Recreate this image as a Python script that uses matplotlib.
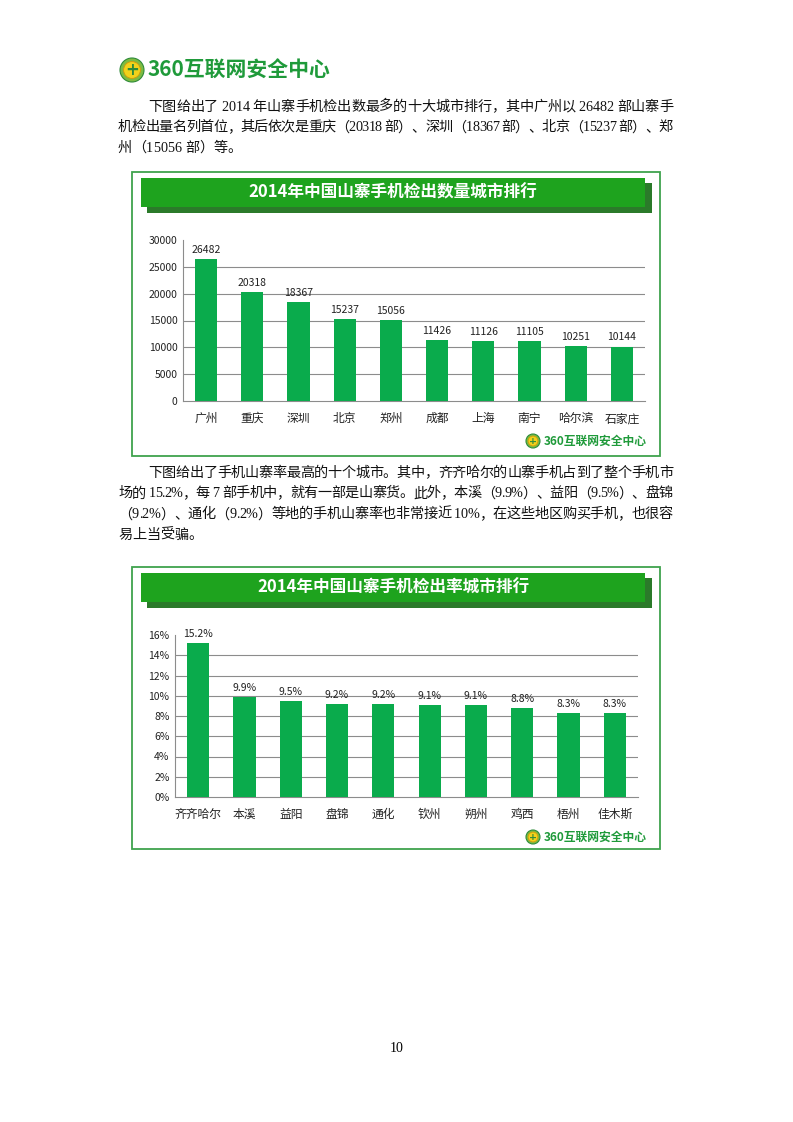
#!/usr/bin/env python3
"""Page 10 of the 360 report: two city ranking bar charts with body text."""

import matplotlib.pyplot as plt
from matplotlib.patches import Rectangle, Circle
from matplotlib.ticker import FuncFormatter

W, H = 793, 1122

count_cities = ["广州", "重庆", "深圳", "北京", "郑州", "成都", "上海", "南宁", "哈尔滨", "石家庄"]
count_values = [26482, 20318, 18367, 15237, 15056, 11426, 11126, 11105, 10251, 10144]
count_ticks = [0, 5000, 10000, 15000, 20000, 25000, 30000]

rate_cities = ["齐齐哈尔", "本溪", "益阳", "盘锦", "通化", "钦州", "朔州", "鸡西", "梧州", "佳木斯"]
rate_values = [15.2, 9.9, 9.5, 9.2, 9.2, 9.1, 9.1, 8.8, 8.3, 8.3]
rate_ticks = [0, 2, 4, 6, 8, 10, 12, 14, 16]

para1 = [
    "下图给出了 2014 年山寨手机检出数最多的十大城市排行，其中广州以 26482 部山寨手",
    "机检出量名列首位，其后依次是重庆（20318 部）、深圳（18367 部）、北京（15237 部）、郑",
    "州（15056 部）等。",
]
para2 = [
    "下图给出了手机山寨率最高的十个城市。其中，齐齐哈尔的山寨手机占到了整个手机市",
    "场的 15.2%，每 7 部手机中，就有一部是山寨货。此外，本溪（9.9%）、益阳（9.5%）、盘锦",
    "（9.2%）、通化（9.2%）等地的手机山寨率也非常接近 10%，在这些地区购买手机，也很容",
    "易上当受骗。",
]

BODY_FONT = ["Liberation Serif", "Noto Sans CJK SC"]
CJK = ["Noto Sans CJK SC", "DejaVu Sans"]
BAR = "#0aab4c"
LOGO_GREEN = "#1f9a3a"

plt.rcParams["font.family"] = CJK


def px(x, y):
    return x / W, 1 - y / H


def justify_line(ax, renderer, s, x0, x1, y, size, full=True):
    widths = []
    for ch in s:
        t = ax.text(0, 0, ch, fontsize=size, family=BODY_FONT)
        widths.append(t.get_window_extent(renderer).width)
        t.remove()
    gap = 0.0
    if full and len(s) > 1:
        gap = ((x1 - x0) - sum(widths)) / (len(s) - 1)
    x = x0
    for ch, w in zip(s, widths):
        ax.text(x, y, ch, fontsize=size, family=BODY_FONT, va="center", ha="left", color="#111111")
        x += w + gap


def draw_logo(ax, x, y, r, size):
    ax.add_patch(Circle((x, y), r, facecolor="#7dbb42", edgecolor="#2e8b3a", lw=0.8, zorder=3))
    ax.add_patch(Circle((x, y), r * 0.7, facecolor="#f2d21b", edgecolor="#d49a0a", lw=0.6, zorder=4))
    ax.text(x, y, "+", fontsize=size * 0.8, fontweight="bold", color="#2e8b3a",
            ha="center", va="center", zorder=5, family="DejaVu Sans")
    ax.text(x + r + 4, y, "360互联网安全中心", fontsize=size, fontweight="bold",
            color=LOGO_GREEN, ha="left", va="center", zorder=5)


def draw_frame(ax, top, bottom, title):
    ax.add_patch(Rectangle((132, top), 528, bottom - top, facecolor="white",
                           edgecolor="#3fa34d", lw=1.3, zorder=1))
    ax.add_patch(Rectangle((147, top + 11), 505, 30, facecolor="#2b7a2a", lw=0, zorder=2))
    ax.add_patch(Rectangle((141, top + 6), 504, 29, facecolor="#1ea31e", lw=0, zorder=3))
    ax.text(393, top + 20.5, title, fontsize=12, fontweight="bold", color="white",
            ha="center", va="center", zorder=4)


def bar_chart(fig, left, right, top, bottom, cats, vals, ticks, fmt_tick, fmt_val):
    x0, y0 = px(left, bottom)
    ax = fig.add_axes([x0, y0, (right - left) / W, (bottom - top) / H])
    ax.set_facecolor("none")
    pos = list(range(len(cats)))
    bars = ax.bar(pos, vals, width=0.48, color=BAR, zorder=3)
    ax.set_xlim(-0.5, len(cats) - 0.5)
    ax.set_ylim(ticks[0], ticks[-1])
    ax.set_yticks(ticks)
    ax.yaxis.set_major_formatter(FuncFormatter(fmt_tick))
    for t in ticks[1:-1]:
        ax.axhline(t, color="#8c8c8c", lw=0.8, zorder=1)
    ax.set_xticks(pos)
    ax.set_xticklabels(cats, fontsize=8.5, color="#222222")
    ax.tick_params(axis="x", length=0, pad=8)
    ax.tick_params(axis="y", length=0, pad=4, labelsize=7.5, labelcolor="#222222")
    for side in ("top", "right"):
        ax.spines[side].set_visible(False)
    ax.spines["left"].set_color("#8c8c8c")
    ax.spines["bottom"].set_color("#8c8c8c")
    ax.spines["left"].set_linewidth(0.8)
    ax.spines["bottom"].set_linewidth(0.8)
    for b, v in zip(bars, vals):
        ax.annotate(fmt_val(v), (b.get_x() + b.get_width() / 2, v), xytext=(0, 3),
                    textcoords="offset points", ha="center", va="bottom",
                    fontsize=7.5, color="#222222")
    return ax


def main():
    fig = plt.figure(figsize=(W / 100, H / 100), dpi=100)
    bg = fig.add_axes([0, 0, 1, 1])
    bg.set_xlim(0, W)
    bg.set_ylim(H, 0)
    bg.axis("off")
    renderer = fig.canvas.get_renderer()

    draw_logo(bg, 132, 70, 12, 15)

    for i, line in enumerate(para1):
        x0 = 148 if i == 0 else 118
        justify_line(bg, renderer, line, x0, 673, 107 + i * 20.5, 10.2, full=i < len(para1) - 1)
    for i, line in enumerate(para2):
        x0 = 148 if i == 0 else 118
        justify_line(bg, renderer, line, x0, 673, 473 + i * 20.7, 10.2, full=i < len(para2) - 1)

    draw_frame(bg, 172, 456, "2014年中国山寨手机检出数量城市排行")
    draw_logo(bg, 533, 441, 7, 8.5)
    draw_frame(bg, 567, 849, "2014年中国山寨手机检出率城市排行")
    draw_logo(bg, 533, 837, 7, 8.5)

    bar_chart(fig, 183, 645, 240, 401, count_cities, count_values, count_ticks,
              lambda v, p: f"{int(v)}", lambda v: f"{v}")
    bar_chart(fig, 175, 638, 635, 797, rate_cities, rate_values, rate_ticks,
              lambda v, p: f"{int(v)}%", lambda v: f"{v:.1f}%")

    bg.text(397, 1048, "10", fontsize=10, family=BODY_FONT, ha="center", va="center")

    fig.savefig("out.png", dpi=100)
    plt.close(fig)


if __name__ == "__main__":
    main()
